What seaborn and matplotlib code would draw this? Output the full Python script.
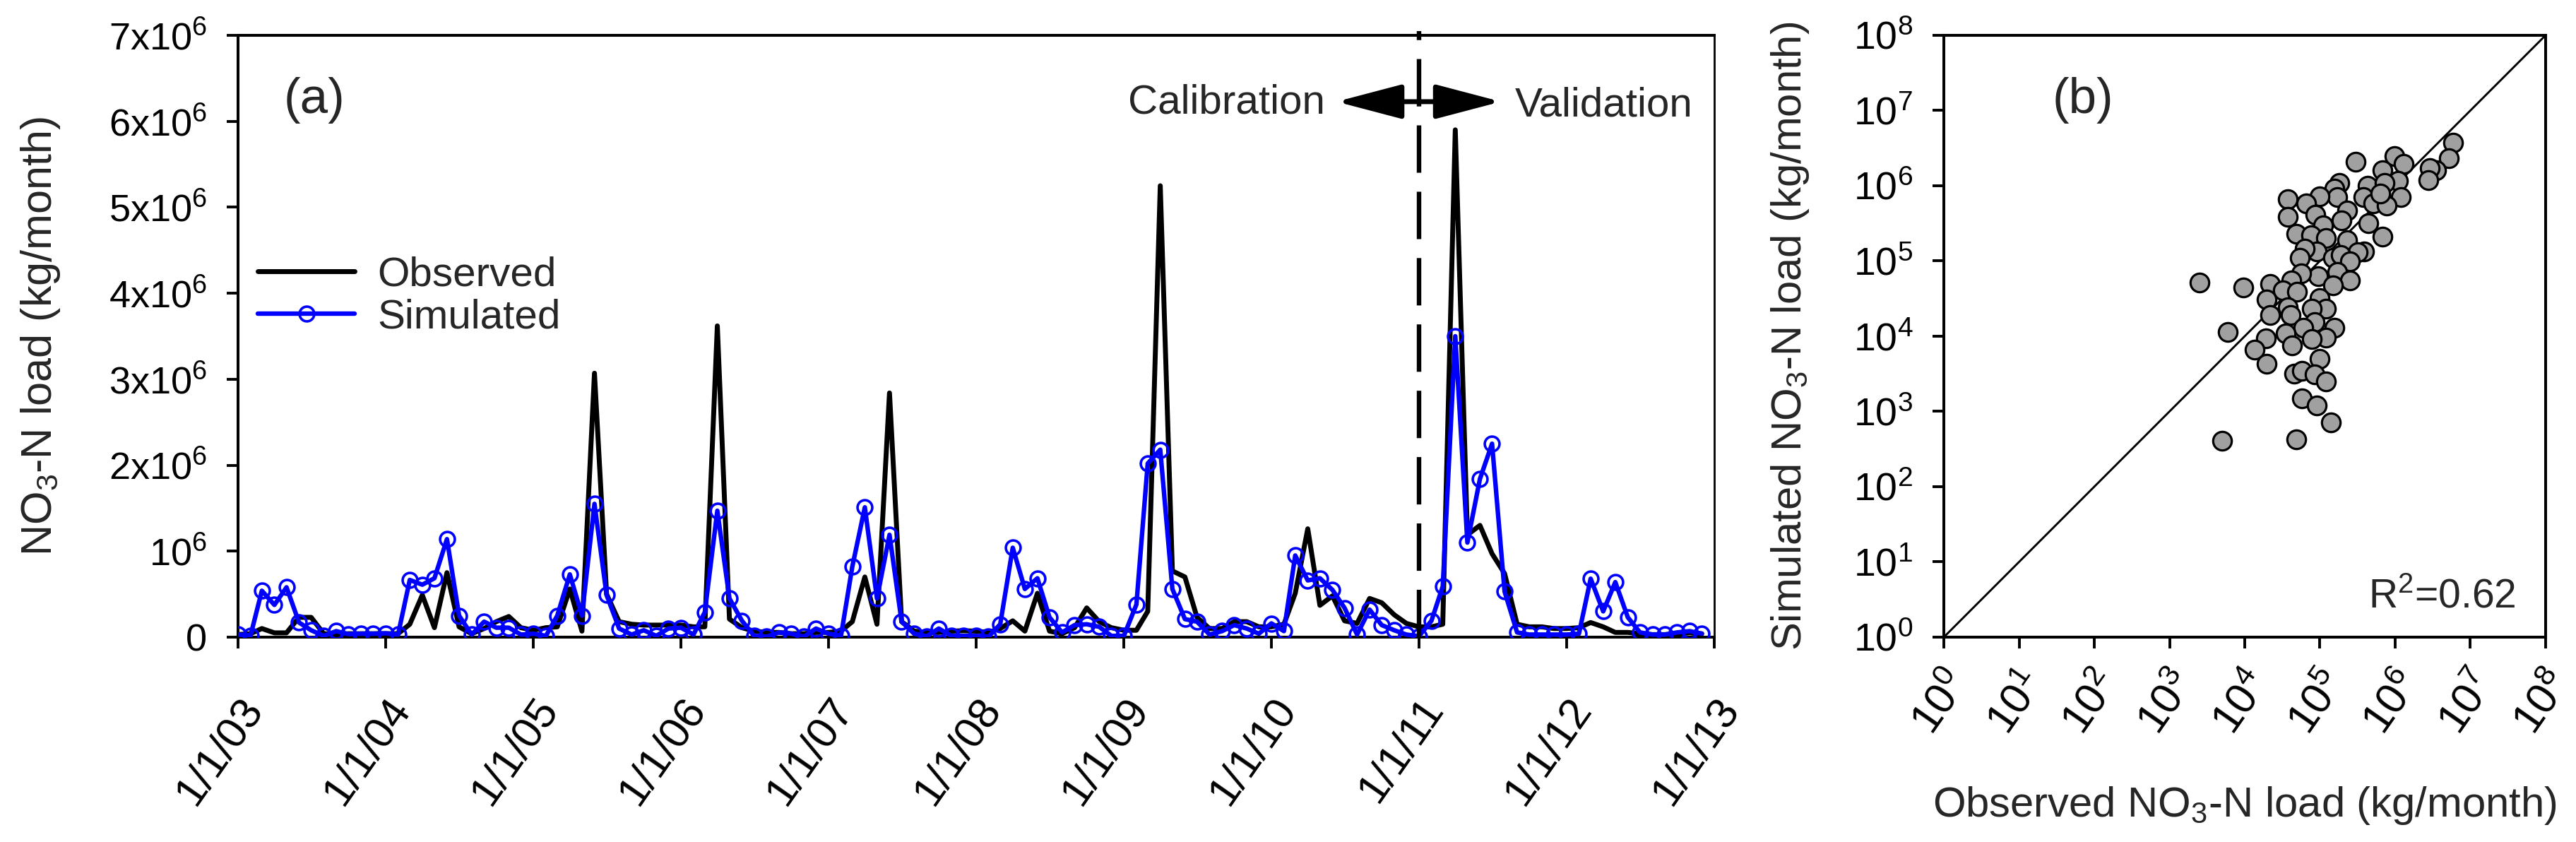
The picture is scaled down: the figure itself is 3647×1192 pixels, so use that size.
import numpy as np
import pandas as pd
import matplotlib
matplotlib.use("Agg")
import matplotlib.pyplot as plt
from matplotlib.ticker import NullLocator
import seaborn as sns

# ---------------- data ----------------
months = pd.date_range("2003-01-01", periods=120, freq="MS")

# monthly NO3-N load, in units of 10^6 kg/month
observed_M = [
    0.03, 0.04, 0.10, 0.05, 0.05, 0.23, 0.23, 0.04, 0.035, 0.04, 0.04, 0.04,
    0.04, 0.04, 0.15, 0.49, 0.11, 0.75, 0.12, 0.04, 0.10, 0.18, 0.24, 0.11,
    0.08, 0.11, 0.12, 0.56, 0.07, 3.07, 0.50, 0.18, 0.15, 0.14, 0.14, 0.14,
    0.14, 0.12, 0.12, 3.62, 0.21, 0.11, 0.07, 0.055, 0.055, 0.04, 0.04, 0.055,
    0.055, 0.07, 0.18, 0.70, 0.15, 2.84, 0.18, 0.07, 0.055, 0.055, 0.07, 0.075,
    0.07, 0.055, 0.10, 0.19, 0.07, 0.51, 0.07, 0.04, 0.11, 0.34, 0.18, 0.11,
    0.08, 0.08, 0.30, 5.25, 0.77, 0.70, 0.23, 0.10, 0.10, 0.18, 0.18, 0.12,
    0.12, 0.15, 0.51, 1.26, 0.37, 0.48, 0.19, 0.16, 0.45, 0.40, 0.26, 0.16,
    0.12, 0.12, 0.15, 5.90, 1.19, 1.30, 0.97, 0.74, 0.15, 0.12, 0.12, 0.10,
    0.10, 0.11, 0.17, 0.12, 0.055, 0.055, 0.04, 0.03, 0.03, 0.04, 0.05, 0.04,
]
simulated_M = [
    0.03, 0.02, 0.54, 0.375, 0.58, 0.17, 0.08, 0.015, 0.07, 0.035, 0.04, 0.04,
    0.045, 0.03, 0.665, 0.61, 0.685, 1.14, 0.25, 0.03, 0.18, 0.11, 0.11, 0.03,
    0.04, 0.015, 0.25, 0.73, 0.25, 1.55, 0.49, 0.10, 0.03, 0.08, 0.015, 0.10,
    0.11, 0.03, 0.29, 1.47, 0.45, 0.19, 0.015, 0.005, 0.055, 0.04, 0.005, 0.10,
    0.04, 0.015, 0.82, 1.51, 0.45, 1.19, 0.18, 0.04, 0.01, 0.10, 0.015, 0.015,
    0.015, 0.005, 0.15, 1.04, 0.56, 0.685, 0.23, 0.055, 0.14, 0.15, 0.12, 0.015,
    0.015, 0.38, 2.02, 2.18, 0.56, 0.21, 0.18, 0.03, 0.07, 0.14, 0.10, 0.04,
    0.16, 0.07, 0.95, 0.66, 0.685, 0.55, 0.34, 0.03, 0.32, 0.14, 0.08, 0.03,
    0.01, 0.19, 0.59, 3.50, 1.10, 1.84, 2.25, 0.53, 0.055, 0.03, 0.03, 0.03,
    0.03, 0.04, 0.68, 0.30, 0.64, 0.23, 0.055, 0.03, 0.03, 0.055, 0.07, 0.04,
]

# scatter (b): observed vs simulated, kg/month
scatter_obs = [
    5.9e6, 5.2e6, 3.5e6, 2.9e6, 2.75e6, 3.0e5, 9.8e5, 1.3e6, 6.8e5, 1.1e6,
    4.3e5, 7.2e5, 3.8e5, 1.2e6, 5.1e5, 7.8e5, 6.3e5, 4.4e5, 6.8e5, 1.8e5,
    1.55e5, 1.7e5, 1.0e5, 3.7e4, 6.5e4, 3.7e4, 8.7e4, 2.3e5, 1.95e5, 1.1e5,
    4.9e4, 7.6e4, 1.2e5, 2.3e5, 3.9e5, 3.2e5, 9.1e4, 6.3e4, 5.4e4, 1.5e5,
    1.9e5, 2.5e5, 1.7e5, 9.5e4, 5.6e4, 2.5e5, 1.5e5, 2.2e4, 2.5e3, 9.5e3,
    4.2e4, 3.2e4, 5.0e4, 1.95e4, 1.0e5, 1.2e5, 3.7e4, 2.2e4, 4.1e4, 7.8e4,
    8.5e4, 6.0e4, 1.55e5, 3.5e4, 1.2e5, 7.8e4, 1.9e4, 4.3e4, 6.0e3, 1.35e4,
    1.95e4, 9.8e4, 4.5e4, 5.8e4, 8.5e4, 1.2e5, 5.8e4, 9.1e4, 1.4e5, 5.0e3,
    4.8e4,
]
scatter_sim = [
    3.7e6, 2.3e6, 1.6e6, 1.7e6, 1.2e6, 2.1e6, 2.5e6, 1.95e6, 1.6e6, 1.15e6,
    1.0e6, 1.1e6, 7.1e5, 7.1e5, 5.8e5, 5.5e5, 7.8e5, 3.2e5, 2.1e5, 1.1e6,
    9.1e5, 7.1e5, 7.2e5, 6.6e5, 5.8e5, 3.9e5, 4.1e5, 4.7e5, 3.5e5, 3.0e5,
    2.3e5, 2.2e5, 2.0e5, 1.9e5, 1.35e5, 1.3e5, 1.35e5, 1.45e5, 1.1e5, 1.1e5,
    1.2e5, 9.8e4, 7.2e4, 6.3e4, 6.9e4, 5.5e4, 4.7e4, 4.9e4, 5.2e4, 4.4e4,
    5.5e4, 4.1e4, 3.9e4, 3.1e4, 3.2e4, 2.3e4, 2.4e4, 1.9e4, 1.9e4, 2.3e4,
    1.55e4, 1.3e4, 1.3e4, 1.1e4, 9.5e3, 9.1e3, 9.3e3, 7.6e3, 1.15e4, 6.6e3,
    4.3e3, 5.0e3, 3.2e3, 3.5e3, 3.1e3, 2.5e3, 1.5e3, 1.2e3, 7.2e2, 4.1e2,
    4.3e2,
]

year_ticks = pd.date_range("2003-01-01", "2013-01-01", freq="YS")
year_tick_labels = ["1/1/03", "1/1/04", "1/1/05", "1/1/06", "1/1/07", "1/1/08",
                    "1/1/09", "1/1/10", "1/1/11", "1/1/12", "1/1/13"]
ya_ticks = [0, 1e6, 2e6, 3e6, 4e6, 5e6, 6e6, 7e6]
ya_tick_labels = ["0", r"$\mathregular{10^{6}}$", r"$\mathregular{2x10^{6}}$",
                  r"$\mathregular{3x10^{6}}$", r"$\mathregular{4x10^{6}}$",
                  r"$\mathregular{5x10^{6}}$", r"$\mathregular{6x10^{6}}$",
                  r"$\mathregular{7x10^{6}}$"]
log_ticks = [1e0, 1e1, 1e2, 1e3, 1e4, 1e5, 1e6, 1e7, 1e8]
log_tick_labels = [r"$\mathregular{10^{0}}$", r"$\mathregular{10^{1}}$",
                   r"$\mathregular{10^{2}}$", r"$\mathregular{10^{3}}$",
                   r"$\mathregular{10^{4}}$", r"$\mathregular{10^{5}}$",
                   r"$\mathregular{10^{6}}$", r"$\mathregular{10^{7}}$",
                   r"$\mathregular{10^{8}}$"]
split_date = pd.Timestamp("2011-01-01")

# ---------------- style ----------------
sns.set_style("ticks")
plt.rcParams["font.family"] = ["Liberation Sans", "DejaVu Sans"]
plt.rcParams["mathtext.fontset"] = "custom"
plt.rcParams["mathtext.rm"] = "Liberation Sans"
plt.rcParams["mathtext.it"] = "Liberation Sans:italic"
plt.rcParams["mathtext.bf"] = "Liberation Sans:bold"
plt.rcParams["axes.edgecolor"] = "black"
plt.rcParams["xtick.color"] = "black"
plt.rcParams["ytick.color"] = "black"

fig = plt.figure(figsize=(36.47, 11.92), dpi=100)
axa = fig.add_axes([0.0924, 0.2433, 0.5731, 0.7148])
axb = fig.add_axes([0.7546, 0.2433, 0.2336, 0.7148])

# ---------------- panel (a) ----------------
df = pd.DataFrame({
    "date": months,
    "Observed": np.array(observed_M) * 1e6,
    "Simulated": np.array(simulated_M) * 1e6,
})
sns.lineplot(data=df, x="date", y="Observed", ax=axa, color="black",
             linewidth=5.0, label="Observed", zorder=2)
sns.lineplot(data=df, x="date", y="Simulated", ax=axa, color="#0000ff",
             linewidth=4.6, marker="o", markersize=15,
             markerfacecolor="none", markeredgecolor="#0000ff",
             markeredgewidth=2.6, label="Simulated", zorder=3)

axa.set_xlim(year_ticks[0], year_ticks[-1])
axa.set_ylim(ya_ticks[0], ya_ticks[-1])
axa.set_xticks(year_ticks)
axa.set_xticklabels(year_tick_labels, rotation=55, ha="right", va="top",
                    rotation_mode="anchor")
axa.set_yticks(ya_ticks)
axa.set_yticklabels(ya_tick_labels)
axa.tick_params(axis="both", direction="out", length=11.5, width=2.8)
axa.tick_params(axis="x", labelsize=44, pad=43)
axa.tick_params(axis="y", labelsize=39, pad=20)
for s in axa.spines.values():
    s.set_linewidth(2.9)
axa.spines["right"].set_linewidth(2.0)

axa.set_xlabel("")
axa.set_ylabel(r"NO$_\mathregular{3}$-N load (kg/month)", fontsize=44,
               va="baseline")
axa.yaxis.set_label_coords(-0.1263, 0.5)

axa.axvline(split_date, ymin=0, ymax=1.007, color="black", linewidth=4.6,
            dashes=(10.5, 4.2), clip_on=False, zorder=4)
axa.annotate("", xy=(0.8555, 0.8897), xytext=(0.744, 0.8897),
             xycoords="axes fraction", textcoords="axes fraction",
             arrowprops=dict(arrowstyle="<|-|>,head_length=5.7,head_width=1.5",
                             mutation_scale=10, lw=5.0, color="black",
                             shrinkA=0, shrinkB=0))
axa.text(0.7364, 0.8697, "Calibration", transform=axa.transAxes,
         ha="right", va="baseline", fontsize=42)
axa.text(0.865, 0.865, "Validation", transform=axa.transAxes,
         ha="left", va="baseline", fontsize=42)
axa.text(0.031, 0.871, "(a)", transform=axa.transAxes,
         ha="left", va="baseline", fontsize=51)

handles, labels = axa.get_legend_handles_labels()
axa.legend(handles, labels, loc="center left", bbox_to_anchor=(0.0134, 0.566),
           frameon=False, fontsize=42, handlelength=2.35, handletextpad=0.55,
           labelspacing=0.1, borderpad=0, borderaxespad=0, numpoints=1)

# ---------------- panel (b) ----------------
dfb = pd.DataFrame({"obs": scatter_obs, "sim": scatter_sim})
axb.set_xscale("log")
axb.set_yscale("log")
axb.plot([log_ticks[0], log_ticks[-1]], [log_ticks[0], log_ticks[-1]],
         color="black", linewidth=2.1, zorder=2)
sns.scatterplot(data=dfb, x="obs", y="sim", ax=axb, s=360, color="#a0a0a0",
                edgecolor="black", linewidth=2.3, zorder=3, legend=False)
axb.set_xlim(log_ticks[0], log_ticks[-1])
axb.set_ylim(log_ticks[0], log_ticks[-1])
axb.set_xticks(log_ticks)
axb.set_xticklabels(log_tick_labels, rotation=55, ha="right", va="top",
                    rotation_mode="anchor")
axb.set_yticks(log_ticks)
axb.set_yticklabels(log_tick_labels)
axb.xaxis.set_minor_locator(NullLocator())
axb.yaxis.set_minor_locator(NullLocator())
axb.tick_params(axis="both", direction="out", length=11.5, width=2.8)
axb.tick_params(axis="x", labelsize=44, pad=17)
axb.tick_params(axis="y", labelsize=40, pad=20)
for s in axb.spines.values():
    s.set_linewidth(2.9)

axb.set_xlabel(r"Observed NO$_\mathregular{3}$-N load (kg/month)", fontsize=43,
               va="baseline")
axb.xaxis.set_label_coords(0.5, -0.298)
axb.set_ylabel(r"Simulated NO$_\mathregular{3}$-N load (kg/month)", fontsize=43,
               va="baseline")
axb.yaxis.set_label_coords(-0.237, 0.5)
axb.text(0.18, 0.871, "(b)", transform=axb.transAxes, ha="left",
         va="baseline", fontsize=51)
axb.text(0.951, 0.049, r"R$^\mathregular{2}$=0.62", transform=axb.transAxes,
         ha="right", va="baseline", fontsize=41)

fig.savefig("out.png", dpi=100, facecolor="white")
